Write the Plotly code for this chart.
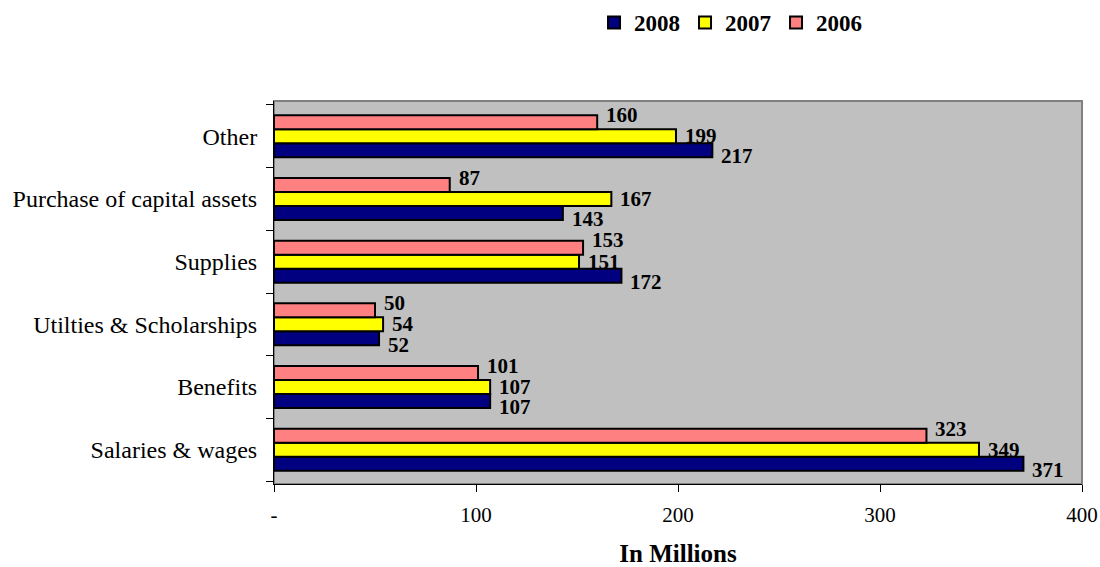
import plotly.graph_objects as go

categories = ["Salaries & wages", "Benefits", "Utilties & Scholarships", "Supplies",
              "Purchase of capital assets", "Other"]
series_names = ["2008", "2007", "2006"]
values_2008 = [371, 107, 52, 172, 143, 217]
values_2007 = [349, 107, 54, 151, 167, 199]
values_2006 = [323, 101, 50, 153, 87, 160]
tick_vals = [0, 100, 200, 300, 400]
tick_text = ["-", "100", "200", "300", "400"]

colors = ["#000080", "#FFFF00", "#FF8080"]
series_values = [values_2008, values_2007, values_2006]

FONT = "Liberation Serif, Times New Roman, serif"

fig = go.Figure()
for name, vals, col in zip(series_names, series_values, colors):
    fig.add_trace(go.Bar(
        y=categories, x=vals, name=name, orientation="h",
        marker=dict(color=col, line=dict(color="black", width=2)),
        cliponaxis=False,
    ))

# data labels next to bar ends (Excel-like placement, spread vertically)
n_series = len(series_names)
bar_px = 14.2
label_dy = [-6, 0, 7]
for si, (vals, name) in enumerate(zip(series_values, series_names)):
    center_offset = (si - (n_series - 1) / 2) * bar_px
    for cat, v in zip(categories, vals):
        fig.add_annotation(
            x=v, y=cat, text="<b>%d</b>" % v, showarrow=False,
            xanchor="left", yanchor="middle", xshift=7,
            yshift=center_offset + label_dy[si],
            font=dict(family=FONT, size=21, color="black"),
        )

fig.update_layout(
    width=1100, height=567,
    margin=dict(l=274, r=18, t=101, b=83, autoexpand=False),
    paper_bgcolor="white",
    plot_bgcolor="#C0C0C0",
    barmode="group",
    bargap=0.33,
    bargroupgap=0,
    font=dict(family=FONT, size=21, color="black"),
    legend=dict(orientation="h", x=0.565, y=1.205, xanchor="center", yanchor="middle",
                font=dict(family=FONT, size=23, color="black", weight="bold"),
                traceorder="normal", itemwidth=30, tracegroupgap=0),
    showlegend=True,
    xaxis=dict(range=[0, 400], tickvals=tick_vals, ticktext=tick_text,
               showgrid=False, zeroline=False, showline=True, linecolor="black",
               linewidth=1, ticks="outside", ticklen=7, tickcolor="black",
               ticklabelstandoff=5,
               tickfont=dict(family=FONT, size=21),
               title=dict(text="<b>In Millions</b>", font=dict(family=FONT, size=25),
                          standoff=18)),
    yaxis=dict(showgrid=False, zeroline=False, showline=True, linecolor="black",
               linewidth=1, ticks="outside", ticklen=7, tickcolor="black",
               tickson="boundaries", ticklabelstandoff=11,
               tickfont=dict(family=FONT, size=24)),
)
# gray plot-area frame (top and right)
fig.add_shape(type="rect", xref="paper", yref="paper", x0=0, x1=1, y0=0, y1=1,
              line=dict(color="#808080", width=2), layer="below")

fig.write_html("out.html")
